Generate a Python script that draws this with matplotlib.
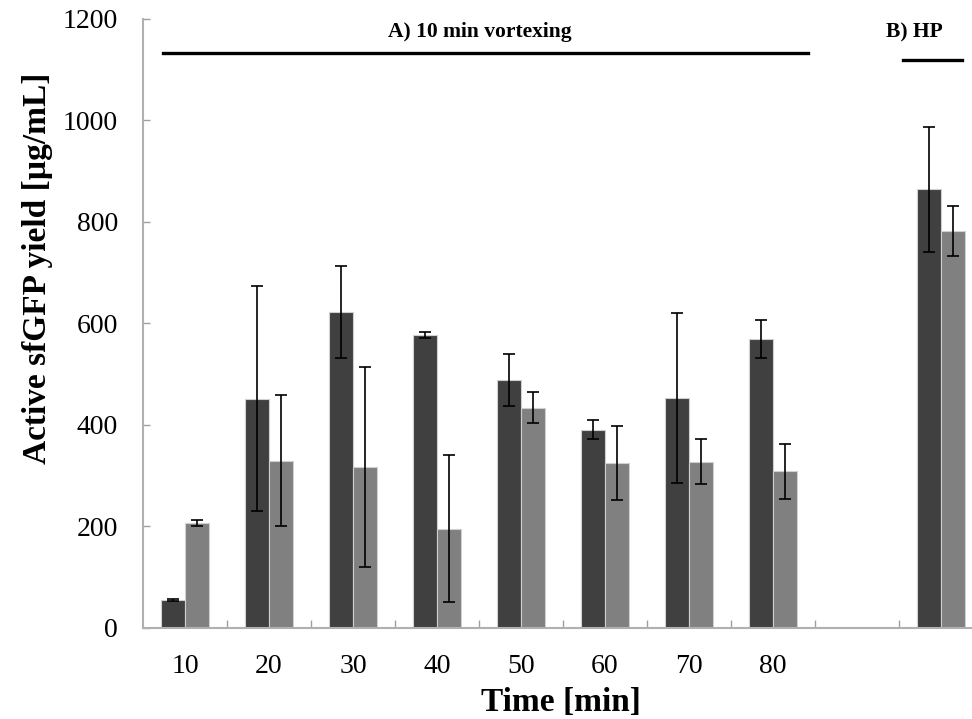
import numpy as np
import matplotlib
matplotlib.use('Agg')
import matplotlib.pyplot as plt

plt.rcParams['font.family'] = ['Liberation Serif', 'DejaVu Serif']

# data
categories = ['10', '20', '30', '40', '50', '60', '70', '80', '', '']
dark_vals = [56, 452, 622, 577, 489, 391, 453, 569, 0, 864]
dark_err = [2, 221, 91, 6, 51, 18, 167, 37, 0, 123]
gray_vals = [206, 330, 317, 196, 434, 325, 328, 309, 0, 782]
gray_err = [6, 130, 197, 145, 31, 72, 45, 54, 0, 50]

idx = np.arange(len(categories))
dark_show = [v > 0 for v in dark_vals]

fig = plt.figure(figsize=(9.72, 7.19), dpi=100)
ax = fig.add_axes([0.1471, 0.1266, 0.8529, 0.847])

w = 0.286
ax.bar(idx - w / 2, dark_vals, w, color='#404040', edgecolor='#d0d0d0', linewidth=0.8)
ax.bar(idx + w / 2, gray_vals, w, color='#808080', edgecolor='#d0d0d0', linewidth=0.8)
sel = np.array(dark_show)
ax.errorbar((idx - w / 2)[sel], np.array(dark_vals)[sel], yerr=np.array(dark_err)[sel],
            fmt='none', ecolor='black', elinewidth=1.2, capsize=4, capthick=1.2)
ax.errorbar((idx + w / 2)[sel], np.array(gray_vals)[sel], yerr=np.array(gray_err)[sel],
            fmt='none', ecolor='black', elinewidth=1.2, capsize=4, capthick=1.2)

ax.set_xlim(-0.5, 9.37)
ax.set_ylim(0, 1200)
ax.set_yticks(np.arange(0, 1201, 200))
ax.set_xticks(idx)
ax.set_xticklabels(categories)
ax.set_xticks(idx[:-1] + 0.5, minor=True)

for s in ['top', 'right']:
    ax.spines[s].set_visible(False)
for s in ['left', 'bottom']:
    ax.spines[s].set_color('#b0b0b0')
    ax.spines[s].set_linewidth(1.5)

ax.tick_params(axis='x', which='major', length=0, pad=19, labelsize=20)
ax.tick_params(axis='x', which='minor', direction='in', length=6, color='#a0a0a0', width=1)
ax.tick_params(axis='y', direction='in', length=5, color='#a0a0a0', width=1, pad=18, labelsize=20)

ax.set_xlabel('Time [min]', fontsize=24, fontweight='bold')
ax.set_ylabel('Active sfGFP yield [µg/mL]', fontsize=24, fontweight='bold')
ax.xaxis.set_label_coords(0.504, -0.097)
ax.yaxis.set_label_coords(-0.108, 0.59)

# group annotations
ax.plot([-0.26, 7.42], [1133, 1133], color='black', lw=2.4, clip_on=False)
ax.text(3.51, 1174, 'A) 10 min vortexing', ha='center', va='center', fontsize=15.5, fontweight='bold')
ax.plot([8.55, 9.25], [1119, 1119], color='black', lw=2.4, clip_on=False)
ax.text(8.68, 1174, 'B) HP', ha='center', va='center', fontsize=15.5, fontweight='bold')

fig.savefig('out.png', dpi=100)
